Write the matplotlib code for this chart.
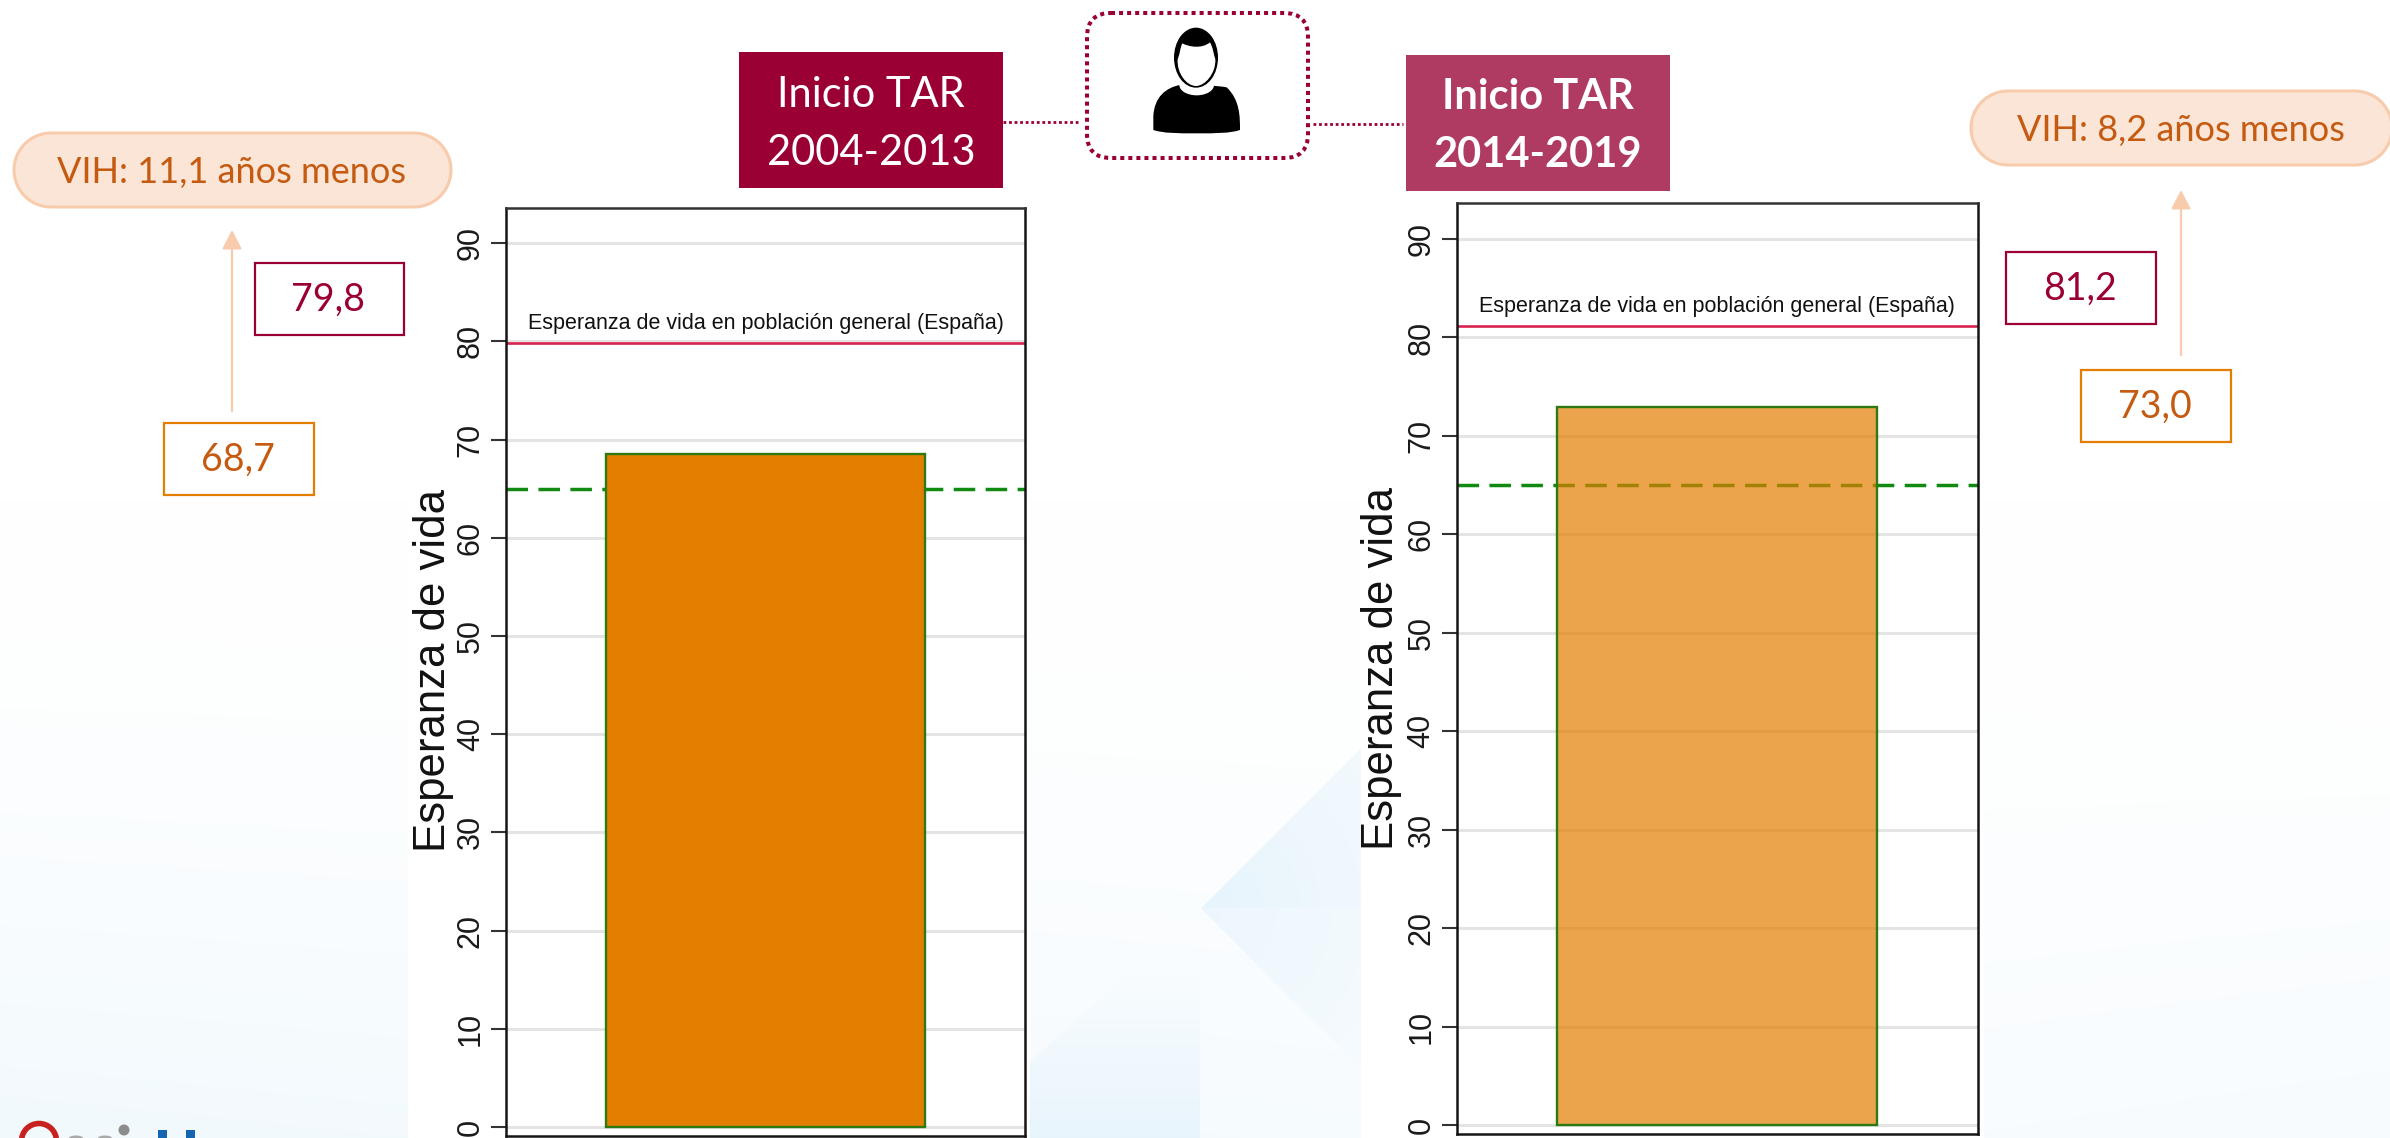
#!/usr/bin/env python3

import numpy as np
import matplotlib
matplotlib.use("Agg")
import matplotlib.pyplot as plt
from matplotlib.patches import FancyBboxPatch, Rectangle, Ellipse, PathPatch, Circle, Polygon
from matplotlib.path import Path

W, H = 2390, 1138

# values
GROUPS = ["Inicio TAR\n2004-2013", "Inicio TAR\n2014-2019"]
VIH = [68.7, 73.0]
VIH_BAR = [68.5, 72.9]
GENERAL = [79.8, 81.2]
REF_LINE = [65, 65]
DIFF_TEXT = ["VIH: 11,1 años menos", "VIH: 8,2 años menos"]
YTICKS = [0, 10, 20, 30, 40, 50, 60, 70, 80, 90]
YLABEL = "Esperanza de vida"
LINE_LABEL = "Esperanza de vida en población general (España)"

WINE = "#9B0034"
ROSE = "#B03B62"
ORANGE = "#E37E00"
ORANGE_TXT = "#C55A11"
PEACH = "#FBE5D6"
PEACH_EDGE = "#F8CBAD"
GREEN = "#2E7A12"
DASH_GREEN = "#108A10"
RED = "#D8224F"
GRID = "#E4E4E4"

SLIDE_FONT = "Lato"
CHART_FONT = "Liberation Sans"

fig = plt.figure(figsize=(W / 100, H / 100), dpi=100, facecolor="white")


def pix_axes(x0, y0, x1, y1, **kw):
    return fig.add_axes([x0 / W, 1 - y1 / H, (x1 - x0) / W, (y1 - y0) / H], **kw)


# slide background, white fading to pale blue with the facets in the middle
yy, xx = np.mgrid[0:H, 0:W]
tint = np.clip((yy - 500) / 638, 0, 1) ** 1.7 * (0.5 - 0.32 * np.clip(xx / W, 0, 1))
tint += np.clip((yy - 700) / 438, 0, 1) * 0.12 * np.clip((xx - 1900) / 490, 0, 1)
cx, cy = 1200, 908
dx, dy = xx - cx, yy - cy
upper = (dy < 0) & (dx > 0) & (-dy < dx)
lower = (dy >= 0) & (dx > 0) & (dy < dx)
fade = np.clip(1 - np.hypot(dx, dy) / 460, 0, 1)
tint[upper] = np.maximum(tint[upper], 0.9 * fade[upper])
tint[lower] = np.maximum(tint[lower], 0.7 * fade[lower])
low_left = (dx < 0) & (dy > -dx * 0.9)
tint[low_left] = np.maximum(tint[low_left], np.clip(dy[low_left] / 230, 0, 1) * 0.85)
blue = np.array([228, 243, 252]) / 255
bg = 1 - tint[..., None] * (1 - blue)

ax_bg = pix_axes(0, 0, W, H, zorder=0)
ax_bg.imshow(bg, extent=(0, W, H, 0), aspect="auto", interpolation="bilinear")
ax_bg.set_xlim(0, W)
ax_bg.set_ylim(H, 0)
ax_bg.axis("off")

# white margin of the two pasted charts
ax_bg.add_patch(Rectangle((408, 195), 622, H - 195, fc="white", ec="none"))
ax_bg.add_patch(Rectangle((1361, 195), 623, H - 195, fc="white", ec="none"))

# logo, cut off by the bottom of the slide
ax_bg.add_patch(Circle((39, 1141), 17.5, fc="none", ec="#C8201F", lw=4))
ax_bg.add_patch(Circle((124, 1130), 5.5, fc="#8C8C8C", ec="none"))
ax_bg.add_patch(Ellipse((76, 1138), 14, 5, fc="#AAAAAA", ec="none"))
ax_bg.add_patch(Ellipse((105, 1138), 14, 5, fc="#AAAAAA", ec="none"))
ax_bg.add_patch(Rectangle((158, 1130), 9, 8, fc="#1566B0", ec="none"))
ax_bg.add_patch(Rectangle((186, 1130), 9, 8, fc="#1566B0", ec="none"))

charts = [
    {"box": (506, 208, 1025, 1135.7), "y0": 1127, "scale": 9.82, "alpha": 1.0, "title_x": 433, "title_y": 670},
    {"box": (1456.5, 203, 1978, 1134), "y0": 1125.3, "scale": 9.848, "alpha": 0.7, "title_x": 1381, "title_y": 668},
]
BAR_WIDTH = 0.613

for i, c in enumerate(charts):
    x0, y0, x1, y1 = c["box"]
    ax = pix_axes(x0, y0, x1, y1, zorder=2, facecolor="white")
    ax.set_xlim(-0.5, 0.5)
    ax.set_ylim((c["y0"] - y1) / c["scale"], (c["y0"] - y0) / c["scale"])
    ax.set_xticks([])
    ax.set_yticks(YTICKS)
    ax.set_yticklabels([str(t) for t in YTICKS], rotation=90, va="center", fontsize=22,
                       family=CHART_FONT, color="#1A1A1A")
    ax.tick_params(axis="y", length=10.5, width=1.5, pad=4, color="#333333")
    ax.set_axisbelow(True)
    ax.grid(axis="y", color=GRID, lw=2.2)
    for s in ax.spines.values():
        s.set_linewidth(1.8)
        s.set_color("#151515")
    ax.spines["top"].set_color("#333333")

    ax.axhline(REF_LINE[i], color=DASH_GREEN, lw=2.5, dashes=(6.2, 3.0), zorder=2)
    ax.axhline(GENERAL[i], color=RED, lw=1.9, zorder=2.5)
    ax.bar([0], [VIH_BAR[i]], width=BAR_WIDTH, zorder=3,
           color=matplotlib.colors.to_rgba(ORANGE, c["alpha"]), edgecolor=GREEN, linewidth=1.7)
    ax.annotate(LINE_LABEL, xy=(0, GENERAL[i]), xytext=(0, 14), textcoords="offset points",
                ha="center", va="center", fontsize=15.5, family=CHART_FONT, color="#111111")

    fig.text(c["title_x"] / W, 1 - c["title_y"] / H, YLABEL, rotation=90, ha="center", va="center",
             fontsize=31.5, family=CHART_FONT, color="#111111", zorder=5)

# everything pasted on the slide, drawn in pixel coordinates
ov = pix_axes(0, 0, W, H, zorder=4)
ov.set_xlim(0, W)
ov.set_ylim(H, 0)
ov.axis("off")
ov.patch.set_alpha(0)


def value_box(x0, y0, x1, y1, value, edge, txt):
    ov.add_patch(Rectangle((x0, y0), x1 - x0, y1 - y0, fc="white", ec=edge, lw=1.6))
    ov.text((x0 + x1) / 2 - 1, (y0 + y1) / 2 + 1, f"{value:.1f}".replace(".", ","), ha="center", va="center",
            fontsize=27, color=txt, family=SLIDE_FONT)


def pill(x0, y0, x1, y1, label, tx):
    r = (y1 - y0) / 2
    ang = np.linspace(-np.pi / 2, np.pi / 2, 60)
    xs = np.r_[x1 - r + r * np.cos(ang), x0 + r - r * np.cos(ang[::-1] * -1)]
    ys = np.r_[y0 + r + r * np.sin(ang), y0 + r - r * np.sin(ang)]
    ov.add_patch(Polygon(np.c_[xs, ys], closed=True, fc=PEACH, ec=PEACH_EDGE, lw=2.2))
    ov.text(tx, (y0 + y1) / 2 + 2, label, ha="center", va="center", fontsize=26, color=ORANGE_TXT,
            family=SLIDE_FONT)


def up_arrow(x, y_from, y_to):
    ov.annotate("", xy=(x, y_to), xytext=(x, y_from),
                arrowprops=dict(arrowstyle="-|>,head_length=1.15,head_width=0.6", color=PEACH_EDGE,
                                lw=1.6, shrinkA=0, shrinkB=0, mutation_scale=10))


def group_box(x0, y0, x1, y1, label, color, weight, tx, ys):
    ov.add_patch(Rectangle((x0, y0), x1 - x0, y1 - y0, fc=color, ec="none"))
    for line, ty in zip(label.split("\n"), ys):
        ov.text(tx, ty, line, ha="center", va="center", fontsize=30, color="white",
                family=SLIDE_FONT, fontweight=weight)


group_box(739, 52, 1003, 188, GROUPS[0], WINE, "normal", 871, (95, 153))
group_box(1406, 55, 1670, 191, GROUPS[1], ROSE, "bold", 1538, (97, 155))

pill(14, 133, 451, 207, DIFF_TEXT[0], 232)
pill(1971, 91, 2392, 165, DIFF_TEXT[1], 2181)

value_box(255, 263, 404, 335, GENERAL[0], WINE, WINE)
value_box(164, 423, 314, 495, VIH[0], ORANGE, ORANGE_TXT)
value_box(2006, 252, 2156, 324, GENERAL[1], WINE, WINE)
value_box(2081, 370, 2231, 442, VIH[1], ORANGE, ORANGE_TXT)

up_arrow(232, 411, 230)
up_arrow(2181, 355, 190)

# patient icon in the dotted box
ov.add_patch(FancyBboxPatch((1107, 33), 181, 105, boxstyle="round,pad=20,rounding_size=24",
                            fc="white", ec=WINE, lw=2.9, ls=(0, (1, 1))))
ov.plot([1003, 1080], [122, 122], color=WINE, lw=2, ls=(0, (1, 1)))
ov.plot([1313, 1403], [124, 124], color=WINE, lw=2, ls=(0, (1, 1)))


def icon(p):
    return (1130 + p[0] / 3, 10 + p[1] / 3)


body = [(70, 320), (72, 260), (110, 232), (150, 225), (200, 225), (250, 225), (290, 232), (330, 270), (330, 320),
        (330, 360), (300, 370), (260, 370), (200, 370), (140, 370), (100, 370), (70, 360), (70, 320), (70, 320)]
body_codes = [Path.MOVETO] + [Path.CURVE4] * 15 + [Path.LINETO, Path.CLOSEPOLY]
ov.add_patch(PathPatch(Path([icon(p) for p in body], body_codes), fc="black", ec="none"))
ov.add_patch(Ellipse(icon((200, 225)), 104 / 3, 62 / 3, fc="white", ec="none"))
ov.add_patch(Ellipse(icon((198, 143)), 132 / 3, 180 / 3, fc="black", ec="none"))
face = [(143, 148), (150, 130), (150, 115), (157, 100), (175, 110), (215, 118), (240, 97), (250, 115), (250, 130),
        (256, 148), (258, 190), (225, 228), (198, 228), (170, 228), (140, 190), (143, 148), (143, 148)]
face_codes = [Path.MOVETO] + [Path.CURVE4] * 15 + [Path.CLOSEPOLY]
ov.add_patch(PathPatch(Path([icon(p) for p in face], face_codes), fc="white", ec="none"))

fig.savefig("out.png", dpi=100)
